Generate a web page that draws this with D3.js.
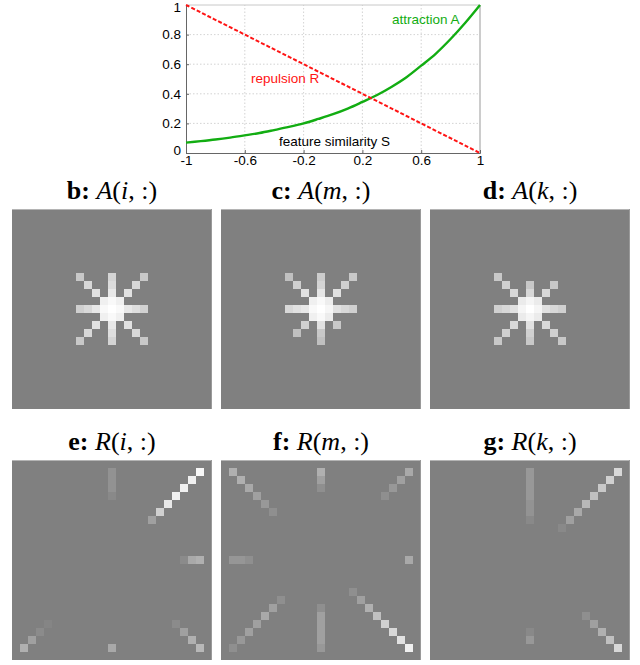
<!DOCTYPE html>
<html><head><meta charset="utf-8">
<script src="https://cdn.jsdelivr.net/npm/d3@7"></script>
<style>
body{margin:0;background:#fff;}
svg{display:block;}
</style></head>
<body>
<svg id="c" width="640" height="665"></svg>
<script>
// ---------- line chart data ----------
const simS = [-1,-0.9,-0.8,-0.7,-0.6,-0.5,-0.4,-0.3,-0.2,-0.1,0,0.1,0.2,0.3,0.4,0.5,0.6,0.7,0.8,0.9,1];
const attractionA = [0.070,0.080,0.091,0.104,0.119,0.135,0.155,0.176,0.200,0.230,0.262,0.300,0.345,0.392,0.448,0.512,0.590,0.672,0.770,0.880,1.000];
const repulsionR = [1.00,0.95,0.90,0.85,0.80,0.75,0.70,0.65,0.60,0.55,0.50,0.45,0.40,0.35,0.30,0.25,0.20,0.15,0.10,0.05,0.00];
const xTicks = [-1,-0.6,-0.2,0.2,0.6,1];
const yTicks = [0,0.2,0.4,0.6,0.8,1];

// ---------- heatmap data: [row, col, intensity 0..1 above gray background] ----------
const gridN = 25;
const panelB = [
 [12,12,1.0],[11,12,0.95],[13,12,0.95],[12,11,0.95],[12,13,0.95],[11,11,0.88],[11,13,0.88],[13,11,0.88],[13,13,0.88],
 [10,12,0.82],[9,12,0.72],[8,12,0.66],[14,12,0.82],[15,12,0.74],[16,12,0.66],
 [12,10,0.82],[12,9,0.70],[12,8,0.62],[12,14,0.82],[12,15,0.74],[12,16,0.64],
 [10,10,0.76],[9,9,0.69],[8,8,0.57],[10,14,0.76],[9,15,0.69],[8,16,0.57],
 [14,10,0.76],[15,9,0.69],[16,8,0.57],[14,14,0.76],[15,15,0.69],[16,16,0.57]
];
const panelC = [
 [12,12,1.0],[11,12,0.95],[13,12,0.95],[12,11,0.95],[12,13,0.93],[11,11,0.88],[11,13,0.86],[13,11,0.88],[13,13,0.85],
 [10,12,0.80],[9,12,0.66],[8,12,0.60],[14,12,0.76],[15,12,0.57],[16,12,0.50],
 [12,10,0.82],[12,9,0.76],[12,8,0.69],[12,14,0.76],[12,15,0.69],[12,16,0.63],
 [10,10,0.76],[9,9,0.63],[8,8,0.50],[10,14,0.76],[9,15,0.63],[8,16,0.57],
 [14,10,0.63],[15,9,0.50],[14,14,0.57]
];
const panelD = [
 [12,12,1.0],[11,12,0.92],[13,12,0.92],[12,11,0.92],[12,13,0.92],[11,11,0.84],[11,13,0.84],[13,11,0.84],[13,13,0.84],
 [10,12,0.69],[9,12,0.57],[14,12,0.76],[15,12,0.63],[16,12,0.57],
 [12,10,0.76],[12,9,0.69],[12,8,0.63],[12,14,0.76],[12,15,0.69],[12,16,0.63],
 [10,10,0.69],[9,9,0.63],[8,8,0.57],[10,14,0.69],[9,15,0.57],
 [14,10,0.69],[15,9,0.63],[16,8,0.57],[14,14,0.69],[15,15,0.63],[16,16,0.57]
];
const panelE = [
 [1,12,0.14],[2,12,0.14],[3,12,0.14],[4,12,0.07],
 [1,23,0.94],[2,22,0.88],[3,21,0.88],[4,20,0.88],[5,19,0.82],[6,18,0.63],[7,17,0.25],
 [12,21,0.09],[12,22,0.32],[12,23,0.38],
 [20,4,0.04],[21,3,0.09],[22,2,0.25],[23,1,0.38],
 [23,12,0.32],
 [20,20,0.09],[21,21,0.25],[22,22,0.38],[23,23,0.44]
];
const panelF = [
 [1,1,0.38],[2,2,0.38],[3,3,0.32],[4,4,0.25],[5,5,0.19],[6,6,0.12],
 [1,12,0.38],[2,12,0.25],[3,12,0.12],
 [1,23,0.32],[2,22,0.25],[3,21,0.19],[4,20,0.12],
 [12,1,0.17],[12,2,0.17],[12,3,0.12],[12,23,0.32],
 [17,7,0.12],[18,6,0.25],[19,5,0.32],[20,4,0.25],[21,3,0.25],[22,2,0.19],[23,1,0.12],
 [18,12,0.12],[19,12,0.25],[20,12,0.25],[21,12,0.25],[22,12,0.25],[23,12,0.19],
 [16,16,0.12],[17,17,0.25],[18,18,0.38],[19,19,0.50],[20,20,0.63],[21,21,0.69],[22,22,0.76],[23,23,0.88]
];
const panelG = [
 [1,12,0.19],[2,12,0.19],[3,12,0.19],[4,12,0.19],[5,12,0.15],[6,12,0.15],[7,12,0.07],
 [1,23,0.69],[2,22,0.63],[3,21,0.57],[4,20,0.50],[5,19,0.44],[6,18,0.32],[7,17,0.25],[8,16,0.07],
 [21,12,0.07],[22,12,0.19],
 [19,19,0.12],[20,20,0.25],[21,21,0.38],[22,22,0.50],[23,23,0.69]
];
const panelTitles = [
 {letter:"b:", fn:"A", arg:"i"}, {letter:"c:", fn:"A", arg:"m"}, {letter:"d:", fn:"A", arg:"k"},
 {letter:"e:", fn:"R", arg:"i"}, {letter:"f:", fn:"R", arg:"m"}, {letter:"g:", fn:"R", arg:"k"}
];
const panelData = [panelB, panelC, panelD, panelE, panelF, panelG];

const svg = d3.select("#c");

// ---------- line chart ----------
const x = d3.scaleLinear().domain([-1,1]).range([186,480]);
const y = d3.scaleLinear().domain([0,1]).range([153,5]);
const plotG = svg.append("g");
plotG.selectAll("line.vg").data(xTicks.slice(1,-1)).enter().append("line")
  .attr("x1",d=>x(d)).attr("x2",d=>x(d)).attr("y1",y(0)).attr("y2",y(1))
  .attr("stroke","#c8c8c8").attr("stroke-width",0.8).attr("stroke-dasharray","1.5,2");
plotG.selectAll("line.hg").data(yTicks.slice(1,-1)).enter().append("line")
  .attr("y1",d=>y(d)).attr("y2",d=>y(d)).attr("x1",x(-1)).attr("x2",x(1))
  .attr("stroke","#c8c8c8").attr("stroke-width",0.8).attr("stroke-dasharray","1.5,2");
plotG.append("line").attr("x1",x(-1)).attr("x2",x(1)).attr("y1",y(1)).attr("y2",y(1)).attr("stroke","#c8c8c8").attr("stroke-width",1);
plotG.append("line").attr("x1",x(1)).attr("x2",x(1)).attr("y1",y(0)).attr("y2",y(1)).attr("stroke","#999").attr("stroke-width",1);
const xAxis = d3.axisBottom(x).tickValues(xTicks).tickSize(-3).tickPadding(4).tickFormat(d=>String(d));
const yAxis = d3.axisLeft(y).tickValues(yTicks).tickSize(-3).tickPadding(5).tickFormat(d=>String(d));
const gx = plotG.append("g").attr("transform",`translate(0,${y(0)})`).call(xAxis);
const gy = plotG.append("g").attr("transform",`translate(${x(-1)},0)`).call(yAxis);
[gx,gy].forEach(g=>{
  g.select(".domain").attr("stroke","#666");
  g.selectAll(".tick line").attr("stroke","#666");
  g.selectAll("text").attr("font-family","'Liberation Sans', Arial, sans-serif").attr("font-size",13.5).attr("fill","#000");
});
gx.selectAll("text").attr("dy","0.62em");
gy.selectAll("text").attr("dy",d=>d===1 ? "0.45em" : (d===0 ? "0.1em" : "0.32em"));
const lineFn = d3.line().x((d,i)=>x(simS[i])).y(d=>y(d)).curve(d3.curveCatmullRom);
plotG.append("path").datum(attractionA).attr("d",lineFn).attr("fill","none").attr("stroke","#12ad12").attr("stroke-width",2.4);
plotG.append("path").datum(repulsionR).attr("d",lineFn).attr("fill","none").attr("stroke","#ff1414").attr("stroke-width",2).attr("stroke-dasharray","4,2");
const lf = "'Liberation Sans', Arial, sans-serif";
plotG.append("text").attr("x",392).attr("y",24).attr("font-family",lf).attr("font-size",13.5).attr("fill","#12ad12").text("attraction A");
plotG.append("text").attr("x",251).attr("y",83).attr("font-family",lf).attr("font-size",13.5).attr("fill","#ff1414").text("repulsion R");
plotG.append("text").attr("x",279).attr("y",146).attr("font-family",lf).attr("font-size",13.5).attr("fill","#000").text("feature similarity S");

// ---------- heatmaps ----------
const panelX = [12,221,430];
const panelY = [209,460];
const panelSize = 200;
const gray = d3.scaleLinear().domain([0,1]).range(["#808080","#ffffff"]);
const sf = "'Liberation Serif','Times New Roman',serif";
panelData.forEach((cells,p)=>{
  const px = panelX[p%3], py = panelY[Math.floor(p/3)];
  const cx = d3.scaleBand().domain(d3.range(gridN)).range([px,px+panelSize]);
  const cy = d3.scaleBand().domain(d3.range(gridN)).range([py,py+panelSize]);
  const g = svg.append("g");
  g.append("rect").attr("x",px).attr("y",py).attr("width",panelSize).attr("height",panelSize).attr("fill","#808080");
  g.selectAll("rect.cell").data(cells).enter().append("rect")
    .attr("x",d=>cx(d[1])).attr("y",d=>cy(d[0]))
    .attr("width",cx.bandwidth()).attr("height",cy.bandwidth())
    .attr("fill",d=>gray(d[2]));
  g.append("line").attr("x1",px).attr("x2",px+panelSize).attr("y1",py+0.5).attr("y2",py+0.5).attr("stroke","#b4b4b4").attr("stroke-width",1);
  g.append("line").attr("x1",px+panelSize-0.5).attr("x2",px+panelSize-0.5).attr("y1",py).attr("y2",py+panelSize).attr("stroke","#9a9a9a").attr("stroke-width",1);
  const t = panelTitles[p];
  const tx = g.append("text").attr("x",px+panelSize/2).attr("y",py-10).attr("text-anchor","middle")
    .attr("font-family",sf).attr("font-size",26).attr("fill","#000");
  tx.append("tspan").attr("font-weight","bold").text(t.letter+" ");
  tx.append("tspan").attr("font-style","italic").text(t.fn);
  tx.append("tspan").text("(");
  tx.append("tspan").attr("font-style","italic").text(t.arg);
  tx.append("tspan").text(", :)");
});
</script>
</body></html>
